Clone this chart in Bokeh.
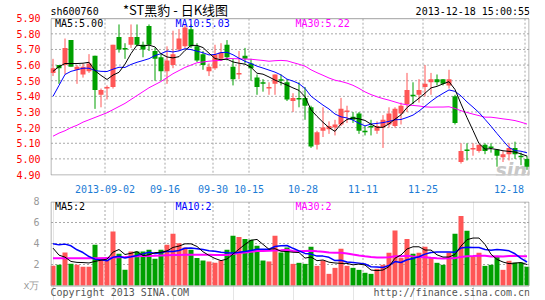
from bokeh.plotting import figure
from bokeh.layouts import column
from bokeh.models import (Range1d, FixedTicker, CustomJSTickFormatter,
                          NumeralTickFormatter, ColumnDataSource)
from bokeh.core.properties import value
from bokeh.embed import file_html
from bokeh.resources import INLINE

# ---------------- data (2013-08-20 .. 2013-12-18, 80 trading days) ----------------
open_ = [5.55, 5.60, 5.60, 5.76, 5.57, 5.54, 5.56, 5.66, 5.41, 5.45,
         5.46, 5.78, 5.71, 5.73, 5.78, 5.73, 5.85, 5.69, 5.65, 5.56,
         5.60, 5.70, 5.72, 5.83, 5.72, 5.67, 5.56, 5.58, 5.64, 5.73,
         5.59, 5.54, 5.66, 5.61, 5.52, 5.49, 5.45, 5.48, 5.51, 5.49,
         5.37, 5.39, 5.39, 5.33, 5.09, 5.18, 5.19, 5.20, 5.22, 5.30,
         5.27, 5.29, 5.18, 5.21, 5.18, 5.20, 5.22, 5.21, 5.29, 5.35,
         5.41, 5.41, 5.46, 5.49, 5.51, 5.51, 5.47, 5.40, 4.98, 5.06,
         5.06, 5.05, 5.09, 5.08, 5.06, 5.01, 5.03, 5.07, 5.02, 5.00]
high = [5.64, 5.60, 5.77, 5.76, 5.60, 5.61, 5.67, 5.66, 5.45, 5.47,
        5.73, 5.86, 5.74, 5.86, 5.86, 5.75, 5.86, 5.71, 5.67, 5.72,
        5.82, 5.83, 5.86, 5.86, 5.74, 5.69, 5.61, 5.73, 5.74, 5.76,
        5.64, 5.69, 5.71, 5.64, 5.54, 5.51, 5.49, 5.54, 5.54, 5.51,
        5.42, 5.49, 5.46, 5.34, 5.18, 5.33, 5.24, 5.25, 5.39, 5.34,
        5.30, 5.30, 5.21, 5.25, 5.24, 5.28, 5.33, 5.33, 5.36, 5.55,
        5.49, 5.51, 5.60, 5.55, 5.54, 5.51, 5.57, 5.41, 5.10, 5.10,
        5.10, 5.09, 5.10, 5.10, 5.06, 5.05, 5.10, 5.11, 5.04, 5.02]
low = [5.53, 5.48, 5.54, 5.59, 5.48, 5.52, 5.55, 5.32, 5.33, 5.38,
       5.45, 5.68, 5.64, 5.71, 5.72, 5.65, 5.69, 5.50, 5.50, 5.48,
       5.58, 5.69, 5.71, 5.71, 5.62, 5.57, 5.53, 5.57, 5.63, 5.63,
       5.47, 5.51, 5.61, 5.50, 5.41, 5.43, 5.41, 5.41, 5.47, 5.37,
       5.30, 5.33, 5.25, 5.07, 5.06, 5.14, 5.16, 5.15, 5.21, 5.23,
       5.23, 5.16, 5.15, 5.15, 5.16, 5.07, 5.20, 5.20, 5.22, 5.30,
       5.35, 5.36, 5.40, 5.41, 5.47, 5.47, 5.45, 5.22, 4.97, 4.99,
       5.02, 5.04, 5.03, 5.04, 4.95, 4.98, 4.99, 5.00, 4.96, 4.93]
close = [5.58, 5.58, 5.71, 5.59, 5.59, 5.59, 5.61, 5.44, 5.44, 5.46,
         5.73, 5.70, 5.70, 5.78, 5.73, 5.70, 5.73, 5.64, 5.56, 5.63,
         5.67, 5.77, 5.84, 5.72, 5.63, 5.60, 5.59, 5.67, 5.68, 5.65,
         5.51, 5.55, 5.64, 5.58, 5.46, 5.48, 5.46, 5.54, 5.50, 5.38,
         5.39, 5.38, 5.34, 5.08, 5.17, 5.20, 5.21, 5.22, 5.32, 5.31,
         5.25, 5.18, 5.17, 5.20, 5.21, 5.25, 5.29, 5.32, 5.34, 5.44,
         5.40, 5.44, 5.48, 5.51, 5.49, 5.48, 5.51, 5.23, 5.05, 5.05,
         5.07, 5.09, 5.05, 5.07, 5.02, 5.03, 5.07, 5.03, 5.01, 4.95]
volume = [1.87, 1.97, 3.14, 2.06, 1.97, 1.78, 1.78, 3.87, 2.67, 2.44,
          5.14, 3.02, 1.49, 3.24, 3.24, 3.24, 3.40, 2.54, 3.40, 3.87,
          4.92, 4.03, 3.62, 3.40, 2.63, 2.38, 2.29, 2.16, 2.38, 3.40,
          4.73, 4.63, 4.44, 4.35, 3.78, 2.38, 2.29, 4.73, 3.14, 3.62,
          2.06, 2.16, 2.06, 3.68, 1.87, 2.38, 1.11, 1.68, 3.49, 1.87,
          1.68, 1.49, 1.21, 1.11, 1.59, 1.97, 3.11, 5.24, 2.63, 4.44,
          3.02, 3.11, 3.68, 2.63, 2.16, 1.97, 3.11, 4.92, 6.63, 5.21,
          2.73, 3.11, 1.87, 1.97, 2.73, 1.49, 2.35, 2.16, 2.19, 1.78]

# moving-average values before enough history is on the chart
ma5_head = [5.56, 5.59, 5.61, 5.61]
ma10_head = [5.40, 5.47, 5.54, 5.56, 5.57, 5.58, 5.58, 5.565, 5.56]
ma30_head = [5.145, 5.165, 5.18, 5.20, 5.215, 5.235, 5.25, 5.265, 5.28, 5.295,
             5.315, 5.335, 5.355, 5.38, 5.405, 5.43, 5.455, 5.475, 5.495, 5.52,
             5.545, 5.565, 5.585, 5.60, 5.615, 5.62, 5.625, 5.628, 5.63]
vma5_head = [3.56, 2.89, 2.70, 2.29]
vma10_head = [3.97, 3.87, 3.94, 3.78, 3.40, 3.14, 2.76, 2.51, 2.44]
vma30_head = [2.60, 2.60, 2.60, 2.60, 2.60, 2.60, 2.60, 2.60, 2.60, 2.63,
              2.66, 2.70, 2.72, 2.75, 2.78, 2.80, 2.82, 2.84, 2.86, 2.88,
              2.90, 2.91, 2.92, 2.93, 2.93, 2.92, 2.92, 2.91, 2.91]

tick_index = [9, 19, 27, 33, 42, 52, 62, 79]
tick_labels = ["2013-09-02", "09-16", "09-30", "10-15", "10-28", "11-11", "11-25", "12-18"]
price_ticks = [4.90, 5.00, 5.10, 5.20, 5.30, 5.40, 5.50, 5.60, 5.70, 5.80, 5.90]
volume_ticks = [0, 2, 4, 6, 8]
volume_unit = "x万"

stock_code = "sh600760"
chart_title = "*ST黑豹 - 日K线图"
timestamp = "2013-12-18 15:00:55"
legend_price = ["MA5:5.00", "MA10:5.03", "MA30:5.22"]
legend_volume = ["MA5:2", "MA10:2", "MA30:2"]
copyright_text = "Copyright 2013 SINA.COM"
site_text = "http://finance.sina.com.cn"

# ---------------- helpers ----------------
def moving_average(values, n, head):
    out = list(head)
    for i in range(len(head), len(values)):
        out.append(sum(values[i - n + 1:i + 1]) / n)
    return out

RED = "#ff5656"
GREEN = "#00a000"
FRAME = "#a0a0a0"
GRID = "#a8a8a8"
MONO = "DejaVu Sans Mono"
MA_COLORS = ["#000000", "#0000ff", "#ff00ff"]

n = len(close)
xs = list(range(n))
colors = [RED if c >= o else GREEN for o, c in zip(open_, close)]
body_top, body_bot = [], []
for o, c in zip(open_, close):
    t, b = max(o, c), min(o, c)
    if t - b < 0.006:
        t, b = t + 0.003, b - 0.003
    body_top.append(t)
    body_bot.append(b)

src = ColumnDataSource(dict(x=xs, high=high, low=low, top=body_top, bottom=body_bot,
                            vol=volume, color=colors,
                            ma5=moving_average(close, 5, ma5_head),
                            ma10=moving_average(close, 10, ma10_head),
                            ma30=moving_average(close, 30, ma30_head),
                            vma5=moving_average(volume, 5, vma5_head),
                            vma10=moving_average(volume, 10, vma10_head),
                            vma30=moving_average(volume, 30, vma30_head)))

slot = 6.0                       # pixels per trading day


def px(X):                       # page x pixel -> day index
    return (X - 52.5) / slot


def py(Y):                       # page y pixel -> price (4.90 at y=177, 5.90 at y=18)
    return 4.90 + (177.0 - Y) / 159.0


def vy(Y):                       # page y pixel -> volume (0 at y=285, 8 at y=201)
    return (285.0 - Y) / 10.5


x_range = Range1d(px(50), px(529))
grid_x = [t - 2.0 / slot for t in tick_index]
label_x = grid_x[:-1] + [grid_x[-1] - 16.0 / slot]


def style_axis(ax, color):
    ax.axis_line_color = None
    ax.major_tick_line_color = None
    ax.minor_tick_line_color = None
    ax.major_label_text_font = MONO
    ax.major_label_text_font_size = "10px"
    ax.major_label_text_color = color


def add_text(p, x, y, text, color, align="left", font=MONO, size="10px", style="normal",
             baseline="middle"):
    p.text(x=x, y=y, text=text, text_color=color, text_align=align, text_baseline=baseline,
           text_font=value(font), text_font_size=value(size), text_font_style=style)


# ---------------- price panel (frame spans page y 0..178) ----------------
p1 = figure(width=545, height=195, x_range=x_range, y_range=Range1d(py(178), py(0)),
            output_backend="svg", toolbar_location=None,
            min_border_left=50, min_border_right=16, min_border_top=0, min_border_bottom=17,
            background_fill_color="white", border_fill_color="white")
p1.outline_line_color = None
p1.xgrid.visible = False
p1.ygrid.visible = False
p1.yaxis.ticker = FixedTicker(ticks=price_ticks)
p1.yaxis.formatter = NumeralTickFormatter(format="0.00")
p1.yaxis.major_label_standoff = 4
p1.xaxis.ticker = FixedTicker(ticks=label_x)
p1.xaxis.formatter = CustomJSTickFormatter(args=dict(labels=tick_labels), code="return labels[index];")
p1.xaxis.major_label_standoff = 3
style_axis(p1.yaxis, "#ff0000")
style_axis(p1.xaxis, "#1c7cd5")

inner = price_ticks[1:-1]
p1.segment(x0=px(50.5), x1=px(528.5), y0=inner, y1=inner, line_color=GRID, line_dash="2 2")
p1.segment(x0=grid_x, x1=grid_x, y0=py(18.5), y1=py(177.5), line_color=GRID, line_dash="2 2")
p1.quad(left=px(50.5), right=px(528.5), bottom=py(177.5), top=py(18.5), fill_color=None,
        line_color=FRAME, line_width=1)

add_text(p1, [px(495)], [py(172)], ["sina"], "#c8c8c8", font="DejaVu Sans", size="19px",
         style="bold italic", baseline="alphabetic")

p1.segment(x0="x", y0="low", x1="x", y1="high", color="color", line_width=1, source=src)
p1.vbar(x="x", width=5.0 / slot, top="top", bottom="bottom", fill_color="color",
        line_color=None, source=src)
p1.line("x", "ma30", color=MA_COLORS[2], line_width=1, source=src)
p1.line("x", "ma10", color=MA_COLORS[1], line_width=1, source=src)
p1.line("x", "ma5", color=MA_COLORS[0], line_width=1, source=src)

add_text(p1, [px(50)], [py(11)], [stock_code], "#000000")
add_text(p1, [px(175)], [py(9)], [chart_title], "#000000", align="center",
         font="Noto Sans CJK SC", size="13px")
add_text(p1, [px(529.5)], [py(11)], [timestamp], "#000000", align="right")
for txt, X, col in zip(legend_price, (54.5, 175, 295), MA_COLORS):
    add_text(p1, [px(X)], [py(23.3)], [txt], col)

# ---------------- volume panel (frame spans page y 201..300) ----------------
p2 = figure(width=545, height=105, x_range=x_range, y_range=Range1d(vy(300), vy(201)),
            output_backend="svg", toolbar_location=None, x_axis_location=None,
            min_border_left=50, min_border_right=16, min_border_top=6, min_border_bottom=0,
            background_fill_color="white", border_fill_color="white")
p2.outline_line_color = None
p2.ygrid.visible = False
p2.yaxis.ticker = FixedTicker(ticks=volume_ticks)
p2.yaxis.major_label_overrides = {0: volume_unit}
p2.yaxis.major_label_standoff = 5
style_axis(p2.yaxis, "#999999")

vinner = volume_ticks[1:-1]
p2.segment(x0=px(50.5), x1=px(528.5), y0=vinner, y1=vinner, line_color=GRID, line_dash="2 2")
p2.segment(x0=grid_x, x1=grid_x, y0=vy(201.5), y1=vy(285.5), line_color=GRID, line_dash="2 2")

p2.vbar(x="x", width=5.0 / slot, top="vol", bottom=0, fill_color="color", line_color=None,
        source=src)
p2.line("x", "vma30", color=MA_COLORS[2], line_width=2, source=src)
p2.line("x", "vma10", color=MA_COLORS[1], line_width=1.5, source=src)
p2.line("x", "vma5", color=MA_COLORS[0], line_width=1, source=src)
p2.quad(left=px(50.5), right=px(528.5), bottom=vy(285.5), top=vy(201.5), fill_color=None,
        line_color=FRAME, line_width=1)

for txt, X, col in zip(legend_volume, (54.5, 175, 295), MA_COLORS):
    add_text(p2, [px(X)], [vy(206)], [txt], col)
add_text(p2, [px(50)], [vy(292.3)], [copyright_text], "#555555")
add_text(p2, [px(529.5)], [vy(292.3)], [site_text], "#555555", align="right")

layout = column(p1, p2, spacing=0)
open("out.html", "w").write(file_html(layout, INLINE))
